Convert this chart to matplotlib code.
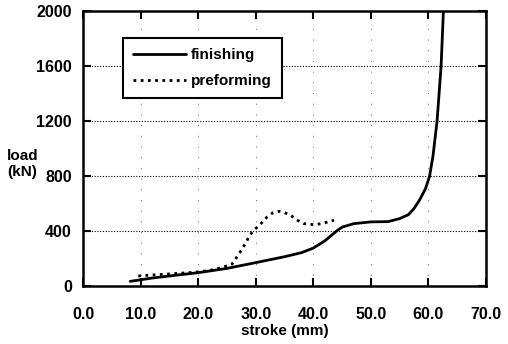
import matplotlib
matplotlib.use("Agg")
import matplotlib.pyplot as plt

plt.rcParams['font.family'] = ['Liberation Sans', 'DejaVu Sans']

fin_x = [8.2, 12, 16, 20, 25, 30, 35, 38, 40, 42, 44, 45, 47, 50, 53, 55, 56.5, 57.5, 58.5, 59.5, 60.2, 60.8, 61.5, 62.2, 62.6]
fin_y = [36, 60, 80, 99, 130, 172, 215, 245, 278, 330, 400, 430, 455, 468, 470, 492, 520, 565, 630, 710, 800, 950, 1200, 1600, 2000]

pre_x = [9.6, 12, 15, 18, 20, 22, 24, 25.9, 27, 28.2, 29, 30, 30.9, 32, 33, 34.1, 35, 36.1, 37, 38.4, 40, 41.5, 43.1, 43.6]
pre_y = [75, 82, 90, 98, 105, 115, 135, 162, 230, 310, 373, 420, 455, 505, 535, 545, 535, 516, 485, 455, 448, 455, 475, 480]

xticks = [0, 10, 20, 30, 40, 50, 60, 70]
xtick_labels = ["0.0", "10.0", "20.0", "30.0", "40.0", "50.0", "60.0", "70.0"]
yticks = [0, 400, 800, 1200, 1600, 2000]
ytick_labels = ["0", "400", "800", "1200", "1600", "2000"]

fig = plt.figure(figsize=(5.08, 3.44), dpi=100)
ax = fig.add_axes([0.1634, 0.1677, 0.7933, 0.8003])

ax.plot(fin_x, fin_y, color='black', lw=2.0, label='finishing', solid_capstyle='round')
ax.plot(pre_x, pre_y, color='black', lw=2.0, linestyle=(0, (1, 1.6)), label='preforming')

ax.set_xlim(0, 70)
ax.set_ylim(0, 2000)
ax.set_xticks(xticks)
ax.set_xticklabels(xtick_labels)
ax.set_yticks(yticks)
ax.set_yticklabels(ytick_labels)

for y in yticks[1:-1]:
    ax.axhline(y, color='black', lw=0.8, linestyle=(0, (1, 1.5)), zorder=0)
for x in xticks[1:-1]:
    ax.axvline(x, color='black', lw=0.7, linestyle=(0, (1, 10)), alpha=0.6, zorder=0)

for s in ax.spines.values():
    s.set_linewidth(1.8)

ax.tick_params(direction='in', length=6, width=1.5, top=True, right=True, labelsize=11.5)
ax.tick_params(axis='x', pad=15)
ax.tick_params(axis='y', pad=8)
for lab in ax.get_xticklabels() + ax.get_yticklabels():
    lab.set_fontweight('bold')

ax.set_xlabel('stroke (mm)', fontsize=11, fontweight='bold', labelpad=1)
fig.text(7/508, 1 - 164/344, 'load\n(kN)', fontsize=11, fontweight='bold', ha='left', va='center', linespacing=1.25)

leg = ax.legend(loc='upper left', bbox_to_anchor=(0.099, 0.902), borderaxespad=0,
                fancybox=False, edgecolor='black', framealpha=1, handlelength=3.5,
                prop={'size': 11, 'weight': 'bold'}, borderpad=0.65, labelspacing=0.8,
                handletextpad=0.3)
leg.get_frame().set_linewidth(1.5)

fig.savefig('out.png', dpi=100)
